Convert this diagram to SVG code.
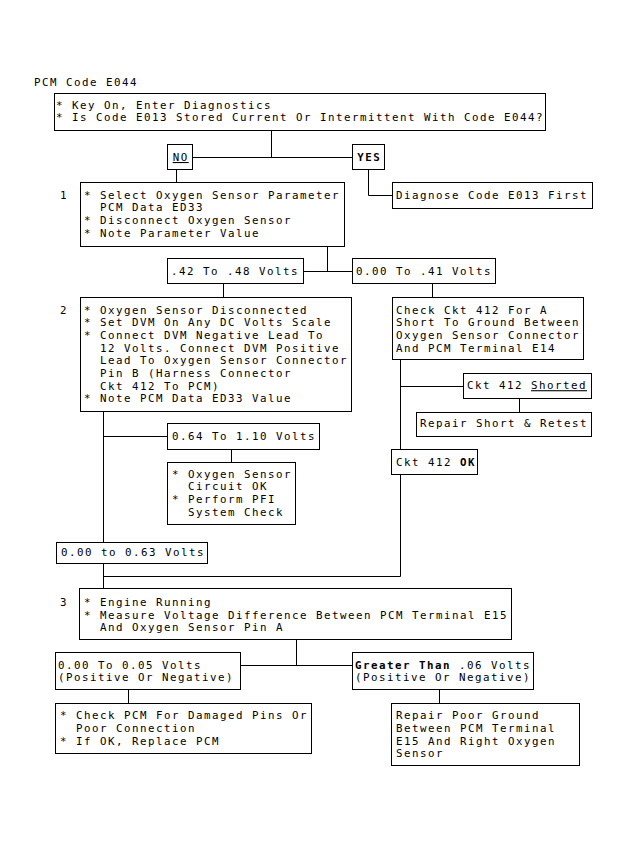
<svg xmlns="http://www.w3.org/2000/svg" width="630" height="842" viewBox="0 0 630 842">
<style>
rect.b{fill:#fff;stroke:#000;stroke-width:1}
#connectors path{fill:none;stroke:#000;stroke-width:1}
text{font-family:"DejaVu Sans Mono","Liberation Mono",monospace;font-size:10.8px;letter-spacing:1.5px;fill:#000}
.bold{font-weight:bold}
.u{text-decoration:underline}
</style>
<rect width="630" height="842" fill="#fff"/>
<text x="34" y="86">PCM Code E044</text>
<g id="connectors">
<path d="M271.5 131 V157.5 M192 157.5 H352"/>
<path d="M176.5 169 V182"/>
<path d="M368.5 169 V195.5 H392"/>
<path d="M327.5 247 V271.5 M304 271.5 H352"/>
<path d="M223.5 284 V297"/>
<path d="M432.5 284 V297"/>
<path d="M103.5 412 V588"/>
<path d="M103.5 436.5 H167"/>
<path d="M231.5 449 V462"/>
<path d="M400.5 360 V449 M400.5 386.5 H463"/>
<path d="M519.5 398 V412"/>
<path d="M400.5 474 V576.5 H103.5"/>
<path d="M296.5 639 V665.5 M241 665.5 H352"/>
<path d="M128.5 690 V703"/>
<path d="M439.5 690 V703"/>
</g>
<g id="start">
<rect class="b" x="54.5" y="93.5" width="491" height="37"/>
<text x="56" y="108.5">* Key On, Enter Diagnostics</text>
<text x="56" y="121">* Is Code E013 Stored Current Or Intermittent With Code E044?</text>
</g>
<g id="no">
<rect class="b" x="167.5" y="144.5" width="25" height="25"/>
<text x="180.7" y="161" text-anchor="middle" class="u">NO</text>
</g>
<g id="yes">
<rect class="b" x="352.5" y="144.5" width="32" height="25"/>
<text x="369.2" y="161" text-anchor="middle" class="bold">YES</text>
</g>
<g id="step1">
<text x="60" y="198.5">1</text>
<rect class="b" x="80.5" y="182.5" width="264" height="64"/>
<text x="84" y="198.5">* Select Oxygen Sensor Parameter</text>
<text x="100" y="211.2">PCM Data ED33</text>
<text x="84" y="223.9">* Disconnect Oxygen Sensor</text>
<text x="84" y="236.6">* Note Parameter Value</text>
</g>
<g id="diagnose">
<rect class="b" x="392.5" y="182.5" width="200" height="26"/>
<text x="396" y="198.5">Diagnose Code E013 First</text>
</g>
<g id="v042">
<rect class="b" x="167.5" y="258.5" width="136" height="25"/>
<text x="171" y="275.2">.42 To .48 Volts</text>
</g>
<g id="v000">
<rect class="b" x="352.5" y="258.5" width="143" height="25"/>
<text x="356" y="275.2">0.00 To .41 Volts</text>
</g>
<g id="step2">
<text x="60" y="313.5">2</text>
<rect class="b" x="80.5" y="297.5" width="271" height="114"/>
<text x="84" y="313.5">* Oxygen Sensor Disconnected</text>
<text x="84" y="326.2">* Set DVM On Any DC Volts Scale</text>
<text x="84" y="338.9">* Connect DVM Negative Lead To</text>
<text x="100" y="351.6">12 Volts. Connect DVM Positive</text>
<text x="100" y="364.3">Lead To Oxygen Sensor Connector</text>
<text x="100" y="377">Pin B (Harness Connector</text>
<text x="100" y="389.7">Ckt 412 To PCM)</text>
<text x="84" y="402.4">* Note PCM Data ED33 Value</text>
</g>
<g id="check412">
<rect class="b" x="392.5" y="297.5" width="191" height="62"/>
<text x="396" y="313.5">Check Ckt 412 For A</text>
<text x="396" y="326.2">Short To Ground Between</text>
<text x="396" y="338.9">Oxygen Sensor Connector</text>
<text x="396" y="351.6">And PCM Terminal E14</text>
</g>
<g id="shorted">
<rect class="b" x="463.5" y="373.5" width="128" height="25"/>
<text x="467" y="389.2">Ckt 412 <tspan class="u">Shorted</tspan></text>
</g>
<g id="repair">
<rect class="b" x="416.5" y="412.5" width="175" height="24"/>
<text x="420" y="426.9">Repair Short &amp; Retest</text>
</g>
<g id="v064">
<rect class="b" x="167.5" y="423.5" width="152" height="26"/>
<text x="172" y="439.9">0.64 To 1.10 Volts</text>
</g>
<g id="circuitok">
<rect class="b" x="167.5" y="462.5" width="128" height="62"/>
<text x="172" y="477.5">* Oxygen Sensor</text>
<text x="188" y="490.2">Circuit OK</text>
<text x="172" y="502.9">* Perform PFI</text>
<text x="188" y="515.6">System Check</text>
</g>
<g id="ckt412ok">
<rect class="b" x="391.5" y="449.5" width="86" height="25"/>
<text x="396" y="465.9">Ckt 412 <tspan class="bold">OK</tspan></text>
</g>
<g id="v063">
<rect class="b" x="56.5" y="542.5" width="151" height="21"/>
<text x="61" y="556.2">0.00 to 0.63 Volts</text>
</g>
<g id="step3">
<text x="60" y="605.9">3</text>
<rect class="b" x="79.5" y="588.5" width="432" height="51"/>
<text x="84" y="605.9">* Engine Running</text>
<text x="84" y="618.6">* Measure Voltage Difference Between PCM Terminal E15</text>
<text x="100" y="631.3">And Oxygen Sensor Pin A</text>
</g>
<g id="v005">
<rect class="b" x="55.5" y="652.5" width="185" height="37"/>
<text x="58" y="668.5">0.00 To 0.05 Volts</text>
<text x="58" y="681.2">(Positive Or Negative)</text>
</g>
<g id="greater">
<rect class="b" x="352.5" y="652.5" width="181" height="37"/>
<text x="355" y="668.5"><tspan class="bold">Greater Than </tspan>.06 Volts</text>
<text x="355" y="681.2">(Positive Or Negative)</text>
</g>
<g id="checkpcm">
<rect class="b" x="55.5" y="703.5" width="256" height="50"/>
<text x="60" y="719.2">* Check PCM For Damaged Pins Or</text>
<text x="76" y="731.9">Poor Connection</text>
<text x="60" y="744.6">* If OK, Replace PCM</text>
</g>
<g id="repairground">
<rect class="b" x="391.5" y="703.5" width="188" height="62"/>
<text x="396" y="719.2">Repair Poor Ground</text>
<text x="396" y="731.9">Between PCM Terminal</text>
<text x="396" y="744.6">E15 And Right Oxygen</text>
<text x="396" y="757.3">Sensor</text>
</g>
</svg>
